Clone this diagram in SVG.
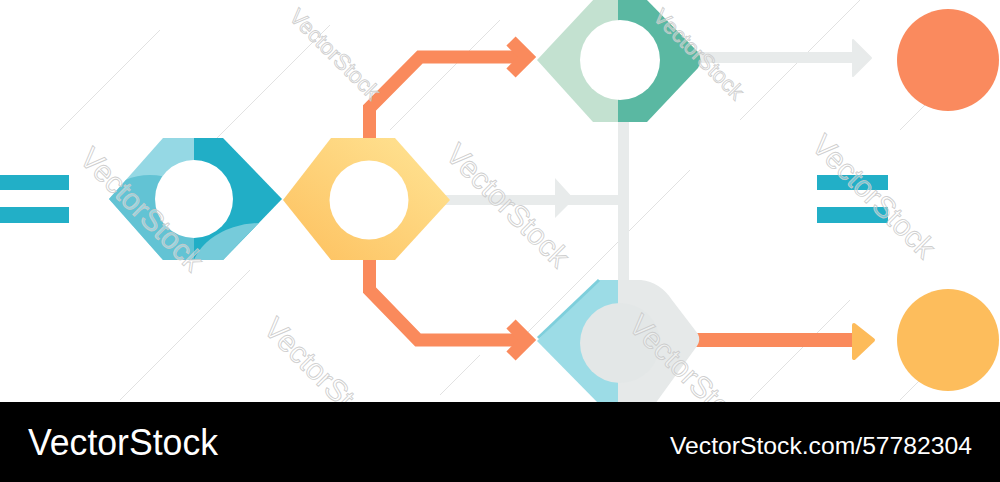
<svg xmlns="http://www.w3.org/2000/svg" width="1000" height="482" viewBox="0 0 1000 482">
<style>
.orange{fill:none;stroke:#fa8a5c;stroke-width:13;stroke-linejoin:miter;stroke-miterlimit:10}
.gray{fill:#e8ebeb}
.wm{font-family:"Liberation Sans",Arial,sans-serif;font-size:30px;fill:#ffffff;fill-opacity:0.35;stroke:#c9c9c9;stroke-width:0.9;stroke-opacity:0.9}
.wm2{font-size:22px}
.wl{stroke:#d2d2d2;stroke-width:0.8;opacity:0.8}
.bar{fill:#22afc7}
.banner{font-family:"Liberation Sans",Arial,sans-serif;fill:#ffffff}
</style>
<defs>
<linearGradient id="yel" x1="1" y1="0" x2="0" y2="1">
<stop offset="0" stop-color="#ffe596"/>
<stop offset="1" stop-color="#fdc05e"/>
</linearGradient>
<clipPath id="clipBlue"><polygon points="109,199 163,138 223,138 282,199 223,260 163,260"/></clipPath>
<clipPath id="clipGreen"><path d="M537,60 L595,-2 L645,-2 L698,52 Q703,60 698,68 L647,122 L593,122 Z"/></clipPath>
</defs>
<rect width="1000" height="482" fill="#ffffff"/>

<g id="watermark-lines">
<line class="wl" x1="120" y1="400" x2="250" y2="270"/>
<line class="wl" x1="390" y1="130" x2="500" y2="20"/>
<line class="wl" x1="215" y1="140" x2="330" y2="25"/>
<line class="wl" x1="520" y1="340" x2="690" y2="170"/>
<line class="wl" x1="740" y1="120" x2="860" y2="0"/>
<line class="wl" x1="900" y1="130" x2="960" y2="70"/>
<line class="wl" x1="60" y1="130" x2="160" y2="30"/>
<line class="wl" x1="900" y1="400" x2="990" y2="310"/>
<line class="wl" x1="750" y1="400" x2="850" y2="300"/>
<line class="wl" x1="440" y1="395" x2="480" y2="355"/>
</g>

<g id="connectors">
<rect class="gray" x="618" y="115" width="11" height="170"/>
<rect class="gray" x="445" y="195" width="178" height="10"/>
<polygon class="gray" points="555,178 574,199 555,218"/>
<rect class="gray" x="698" y="52" width="157" height="11"/>
<polygon class="gray" points="853,40 871,58 853,76" stroke="#e8ebeb" stroke-width="2" stroke-linejoin="round"/>
<polyline class="orange" points="369.5,140 369.5,108 420,57 525,57"/>
<polyline class="orange" points="511,41 527,57 511,73"/>
<polyline class="orange" points="369.5,258 369.5,290 418,340 525,340"/>
<polyline class="orange" points="511,324 527,340 511,356"/>
<rect x="695" y="333" width="160" height="14" fill="#fa8a5c"/>
<path d="M854,325 L873,340 L854,358 Z" fill="#fdbb5a" stroke="#fdbb5a" stroke-width="4" stroke-linejoin="round"/>
</g>

<g id="bar-left">
<rect class="bar" x="0" y="175" width="69" height="15"/>
<rect class="bar" x="0" y="207" width="69" height="16"/>
</g>

<g id="node-blue">
<g clip-path="url(#clipBlue)">
<rect x="100" y="130" width="94" height="140" fill="#95d8e4"/>
<ellipse cx="150" cy="240" rx="65" ry="65" fill="#62c3d4"/>
<rect x="194" y="130" width="100" height="140" fill="#21aec6"/>
<ellipse cx="260" cy="278" rx="70" ry="55" fill="#76cbda"/>
</g>
<circle cx="194" cy="199" r="39" fill="#ffffff"/>
</g>

<g id="node-yellow">
<polygon points="283,200 331,138 395,138 450,200 395,260 331,260" fill="url(#yel)"/>
<circle cx="369" cy="200" r="39.5" fill="#ffffff"/>
</g>

<g id="node-green">
<g clip-path="url(#clipGreen)">
<rect x="530" y="-5" width="88" height="130" fill="#c3e1d0"/>
<rect x="618" y="-5" width="90" height="130" fill="#5ab8a2"/>
</g>
<circle cx="620" cy="60" r="40" fill="#ffffff"/>
</g>

<g id="node-bottom">
<path d="M618,280 L641,280 Q660,282 672,300 L698,334 Q701,340 697,346 L655,404 L618,404 Z" fill="#e6e9e9"/>
<path d="M537,341 L599,280 L618,280 L618,404 L599,404 Z" fill="#9cdce6"/>
<path d="M538,338 L599,280" stroke="#7ecfdc" stroke-width="3" fill="none"/>
<circle cx="620" cy="343" r="40" fill="#e3e7e7"/>
</g>

<g id="bar-right">
<rect class="bar" x="817" y="175" width="71" height="15"/>
<rect class="bar" x="817" y="207" width="71" height="16"/>
</g>

<g id="circle-orange">
<circle cx="948" cy="60" r="51" fill="#fa8a5e"/>
</g>
<g id="circle-yellow">
<circle cx="948" cy="340" r="51" fill="#fdbd5c"/>
</g>

<g id="watermarks">
<text class="wm" transform="translate(78,160) rotate(45)">VectorStock</text>
<text class="wm" transform="translate(444,156) rotate(45)">VectorStock</text>
<text class="wm wm2" transform="translate(288,18) rotate(45)">VectorStock</text>
<text class="wm wm2" transform="translate(652,18) rotate(45)">VectorStock</text>
<text class="wm" transform="translate(810,147) rotate(45)">VectorStock</text>
<text class="wm" transform="translate(262,330) rotate(45)">VectorStock</text>
<text class="wm" transform="translate(627,327) rotate(45)">VectorStock</text>
</g>

<g id="banner">
<rect x="0" y="402" width="1000" height="80" fill="#000000"/>
<text class="banner" x="28" y="455" font-size="36" textLength="190" lengthAdjust="spacingAndGlyphs">VectorStock</text>
<text class="banner" x="670" y="454" font-size="24" textLength="302" lengthAdjust="spacingAndGlyphs">VectorStock.com/57782304</text>
</g>
</svg>
